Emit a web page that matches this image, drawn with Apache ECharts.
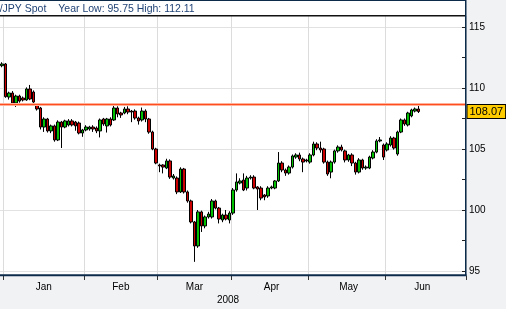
<!DOCTYPE html>
<html><head><meta charset="utf-8">
<script src="https://cdn.jsdelivr.net/npm/echarts@6/dist/echarts.min.js"></script>
<style>html,body{margin:0;padding:0;background:#f1f2f4;}#c{width:506px;height:309px;}</style>
</head><body><div id="c"></div>
<script>
const titleMain = 'USD/JPY Spot';
const titleStats = 'Year Low: 95.75 High: 112.11';
const yearLabel = '2008';
const monthNames = ['Jan','Feb','Mar','Apr','May','Jun'];
const yTickValues = [95, 100, 105, 110, 115];
const resistanceLevel = 108.66;
const lastPrice = 108.07;

const opens = [111.83,111.97,109.26,109.59,108.77,109.34,109.18,109.02,109.92,109.67,
108.61,108.36,106.80,107.46,106.48,106.89,105.74,107.21,106.80,106.97,
107.30,107.21,107.13,106.31,106.56,106.64,106.80,106.72,106.48,107.46,
106.89,107.46,107.38,108.36,107.95,107.95,108.28,108.11,108.11,107.54,
107.38,108.11,107.46,106.39,105.00,103.69,103.69,103.44,104.02,102.62,
102.62,101.48,103.36,101.48,100.74,99.02,97.05,99.84,98.69,99.43,
99.43,100.74,100.16,99.18,99.59,99.18,99.75,101.64,102.21,102.46,
101.80,102.62,102.70,101.89,101.80,101.23,101.15,101.80,101.80,102.38,
103.85,103.28,103.03,103.52,104.34,104.51,104.18,104.10,103.93,104.51,
105.41,105.08,105.00,103.93,103.11,103.93,104.84,105.16,104.84,104.10,
104.51,103.85,103.11,104.10,103.44,103.44,104.26,104.75,105.66,105.33,
104.92,105.33,105.90,104.59,106.39,107.38,106.97,107.71,108.11,108.28];
const closes = [111.97,109.29,109.59,108.77,109.34,108.93,109.02,109.92,109.10,108.85,
108.28,106.80,107.46,106.48,106.89,105.74,107.21,106.80,107.30,107.30,
106.97,106.89,106.31,106.56,106.80,106.80,106.64,106.48,107.38,107.05,
107.46,106.97,108.36,107.87,107.79,108.28,108.03,108.03,107.54,107.30,
108.11,107.46,106.39,105.00,103.85,103.61,103.52,104.02,102.70,102.79,
101.48,103.36,101.48,100.74,99.02,97.05,99.84,98.69,99.43,99.67,
100.74,100.16,99.26,99.59,99.26,99.75,101.64,102.30,102.38,101.64,
102.62,102.70,101.80,101.72,100.98,101.07,101.80,101.89,102.38,103.85,
103.28,103.03,103.52,104.43,104.51,104.18,103.93,104.02,104.51,105.41,
105.08,104.92,103.93,102.95,103.93,104.84,105.16,104.92,104.10,104.51,
103.85,103.11,104.10,103.44,103.52,104.34,104.75,105.66,105.74,104.34,
105.41,105.90,105.08,106.39,107.38,107.05,107.95,108.20,108.28,108.07];
const lows = [111.70,109.20,109.05,108.60,108.45,108.80,108.90,108.95,109.00,108.75,
108.15,106.60,106.40,106.35,106.30,105.60,105.65,105.08,106.70,106.85,
106.85,106.50,106.20,106.00,106.45,106.50,106.40,106.30,105.95,106.90,
106.35,106.85,107.30,107.60,107.55,107.85,107.85,107.20,107.40,107.00,
107.25,107.20,106.25,104.90,103.75,103.10,103.00,103.35,102.55,102.50,
101.30,101.40,101.35,100.60,98.90,95.75,96.90,98.20,98.50,99.30,
99.30,100.05,98.90,99.00,99.15,98.90,99.60,101.50,102.10,101.55,
101.60,102.50,101.70,100.00,100.80,100.80,101.00,101.70,101.70,102.30,
103.10,102.80,102.90,103.40,104.20,104.00,103.10,103.90,103.80,104.40,
104.90,104.70,103.80,102.80,102.60,103.80,104.70,104.80,103.90,103.95,
103.60,102.90,103.00,103.30,103.30,103.35,104.15,104.65,105.55,104.10,
104.80,105.20,104.95,104.45,106.30,106.90,106.85,107.60,108.00,107.95];
const highs = [112.11,112.05,109.70,109.75,109.45,109.45,109.30,110.05,110.25,109.80,
108.70,108.45,107.60,107.55,107.00,107.00,107.35,107.30,107.40,107.45,
107.45,107.30,107.25,106.65,106.95,106.90,106.95,106.85,107.50,107.55,
107.55,107.60,108.62,108.50,108.05,108.45,108.50,108.20,108.25,107.65,
108.40,108.25,107.55,106.50,105.10,103.80,103.75,104.20,104.15,102.95,
102.75,103.50,103.45,101.60,100.85,99.10,100.00,99.95,99.55,99.85,
100.90,100.85,100.25,99.70,100.00,99.90,101.80,103.00,102.60,103.00,
102.80,102.85,102.85,101.95,101.95,101.30,101.95,102.00,102.45,104.75,
104.00,103.40,103.65,104.55,104.65,104.70,104.30,104.20,104.65,105.60,
105.55,105.60,105.10,104.05,104.05,104.95,105.30,105.35,104.95,104.60,
104.65,103.95,104.25,104.20,103.65,104.45,104.90,105.80,105.98,105.45,
105.55,106.05,106.00,106.50,107.50,107.50,108.05,108.30,108.40,108.62];

// weekday categories Dec 31 2007 .. Jul 2 2008
const cats = [];
let t = Date.UTC(2007, 11, 31);
const tEnd = Date.UTC(2008, 6, 2);
while (t <= tEnd) { const wd = new Date(t).getUTCDay(); if (wd !== 0 && wd !== 6) cats.push(new Date(t).toISOString().slice(0, 10)); t += 86400000; }
const groups = {};
cats.forEach((c, i) => { const k = c.slice(0, 7); (groups[k] = groups[k] || []).push(i); });
const firstIdx = new Set(); const midIdx = {};
Object.keys(groups).forEach(k => {
  const y = +k.slice(0, 4), m = +k.slice(5, 7);
  if (y === 2008 && m <= 6) { const arr = groups[k]; firstIdx.add(arr[0]); midIdx[arr[Math.floor(arr.length / 2)]] = monthNames[m - 1]; }
});

const candleData = opens.map((o, i) => [o, closes[i], lows[i], highs[i]]);
const NAVY = '#0c2b4b';
const FONT = 'Liberation Sans';

const chart = echarts.init(document.getElementById('c'), null, { renderer: 'canvas' });
chart.setOption({
  animation: false,
  backgroundColor: 'transparent',
  grid: [
    { left: -0.5, right: 40, top: 16, bottom: 33, show: true, backgroundColor: '#fff', borderWidth: 0 },
    { left: -0.5, right: 40, top: 27, bottom: 38, show: false }
  ],
  xAxis: [
    { type: 'category', gridIndex: 0, data: cats, boundaryGap: true,
      axisLine: { show: false },
      axisTick: { show: true, interval: (i) => firstIdx.has(i), length: 4, lineStyle: { color: '#333' } },
      axisLabel: { interval: (i) => midIdx[i] !== undefined, formatter: (v, i) => midIdx[i] || '', fontSize: 10, color: '#000', margin: 6, fontFamily: FONT },
      splitLine: { show: true, interval: (i) => firstIdx.has(i), lineStyle: { color: '#dcdcdc', width: 1 } } },
    { type: 'category', gridIndex: 1, data: cats, show: false }
  ],
  yAxis: [
    { type: 'value', gridIndex: 0, min: 94.59, max: 115.902, show: false, splitLine: { show: false } },
    { type: 'value', gridIndex: 1, min: yTickValues[0], max: yTickValues[yTickValues.length - 1], interval: 5, position: 'right',
      axisLine: { show: false },
      axisTick: { show: true, inside: true, length: 4, lineStyle: { color: '#222' } },
      minorTick: { show: true, splitNumber: 2, length: 4, lineStyle: { color: '#222' } },
      axisLabel: { fontSize: 10, color: '#000', margin: 3, fontFamily: FONT },
      splitLine: { show: true, lineStyle: { color: '#e2e2e2', width: 1 } } }
  ],
  series: [{
    type: 'candlestick', xAxisIndex: 0, yAxisIndex: 0, data: candleData, barWidth: 3, clip: false,
    itemStyle: { color: '#00c000', color0: '#cc0000', borderColor: '#000', borderColor0: '#000', borderWidth: 1 },
    markLine: {
      silent: true, symbol: 'none', animation: false,
      data: [
        { yAxis: resistanceLevel, lineStyle: { color: '#ffb199', width: 3, type: 'solid' }, label: { show: false } },
        { yAxis: resistanceLevel, lineStyle: { color: '#ff4d1f', width: 1.2, type: 'solid' }, label: { show: false } },
        { yAxis: lastPrice, lineStyle: { color: 'rgba(255,255,255,0)', width: 1, type: 'solid' },
          label: { show: true, position: 'end', distance: 1.5, formatter: lastPrice.toFixed(2),
            backgroundColor: '#ffcc00', borderColor: '#000', borderWidth: 1, padding: [1, 2, 0, 2], color: '#000', fontSize: 11, lineHeight: 12, fontFamily: FONT } }
      ]
    }
  }],
  graphic: [
    { type: 'rect', shape: { x: 0, y: 0, width: 466, height: 16 }, style: { fill: '#fff' }, z: 1 },
    { type: 'line', shape: { x1: 0, y1: 0.5, x2: 466, y2: 0.5 }, style: { stroke: NAVY, lineWidth: 1 }, z: 100 },
    { type: 'line', shape: { x1: 0, y1: 15.75, x2: 466, y2: 15.75 }, style: { stroke: '#111', lineWidth: 1.5 }, z: 100 },
    { type: 'line', shape: { x1: 465.75, y1: 0, x2: 465.75, y2: 276 }, style: { stroke: NAVY, lineWidth: 1.5 }, z: 100 },
    { type: 'line', shape: { x1: 0, y1: 275.25, x2: 466.5, y2: 275.25 }, style: { stroke: NAVY, lineWidth: 2 }, z: 100 },
    { type: 'text', x: -22.5, y: 9, style: { text: titleMain, fill: '#1f4275', font: '10.5px "Liberation Sans"', textVerticalAlign: 'middle' }, z: 101 },
    { type: 'text', x: 58.3, y: 9, style: { text: titleStats, fill: '#1f4275', font: '10.5px "Liberation Sans"', textVerticalAlign: 'middle' }, z: 101 },
    { type: 'text', x: 228, y: 300.5, style: { text: yearLabel, fill: '#000', font: '10px "Liberation Sans"', textAlign: 'center', textVerticalAlign: 'middle' }, z: 101 }
  ]
});
</script></body></html>
